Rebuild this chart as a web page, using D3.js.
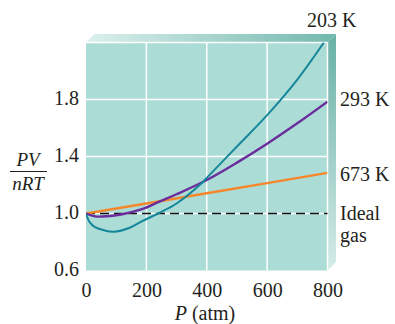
<!DOCTYPE html>
<html>
<head>
<meta charset="utf-8">
<script src="https://cdn.jsdelivr.net/npm/d3@7"></script>
<style>
  html, body { margin: 0; padding: 0; background: #fff; }
  svg { display: block; }
  text { font-family: "Liberation Serif", "DejaVu Serif", serif; fill: #231f20; }
</style>
</head>
<body>
<svg id="chart" width="395" height="324"></svg>
<script>
// ---- data ----
const xTicks = [0, 200, 400, 600, 800];
const yTicks = [0.6, 1.0, 1.4, 1.8];
const yTickLabels = ["0.6", "1.0", "1.4", "1.8"];
const gridX = [200, 400, 600, 800];
const gridY = [1.0, 1.4, 1.8, 2.2];

const series203 = [[0,1.0],[12,0.94],[30,0.905],[60,0.882],[92,0.872],[145,0.90],[185,0.945],[239,1.0],[300,1.07],[382,1.21],[400,1.25],[500,1.47],[600,1.69],[700,1.94],[788,2.2]];
const series293 = [[0,1.0],[30,0.98],[70,0.981],[120,0.995],[185,1.03],[245,1.085],[300,1.135],[400,1.235],[500,1.357],[600,1.49],[700,1.633],[800,1.785]];
const series673 = [[0,1.0],[200,1.07],[400,1.142],[600,1.213],[800,1.285]];
const idealGas = [[0,1.0],[800,1.0]];

const seriesLabels = [
  {text: "203 K", px: 307, py: 27},
  {text: "293 K", px: 340, py: 106},
  {text: "673 K", px: 340, py: 181},
  {text: "Ideal", px: 340, py: 220},
  {text: "gas", px: 340, py: 242}
];

// ---- layout ----
const svg = d3.select("#chart");
const x = d3.scaleLinear().domain([0, 800]).range([86, 327.5]);
const y = d3.scaleLinear().domain([0.6, 2.2]).range([270.5, 42.5]);
const depth = 8.5;

const defs = svg.append("defs");
const gTop = defs.append("linearGradient").attr("id", "gTop").attr("x1", "0").attr("x2", "1").attr("y1", "0").attr("y2", "0");
gTop.append("stop").attr("offset", "0").attr("stop-color", "#dcf0ed");
gTop.append("stop").attr("offset", "1").attr("stop-color", "#72b8ad");
const gRight = defs.append("linearGradient").attr("id", "gRight").attr("x1", "0").attr("x2", "0").attr("y1", "0").attr("y2", "1");
gRight.append("stop").attr("offset", "0").attr("stop-color", "#68b0a5");
gRight.append("stop").attr("offset", "1").attr("stop-color", "#d4ece8");
defs.append("clipPath").attr("id", "plotClip").append("rect")
  .attr("x", x(0)).attr("y", y(2.2)).attr("width", x(800) - x(0)).attr("height", y(0.6) - y(2.2));

const x0 = x(0), x1 = x(800), yT = y(2.2), yB = y(0.6);
// 3D bevels
svg.append("polygon")
  .attr("points", [[x0, yT], [x0 + depth, yT - depth], [x1 + depth, yT - depth], [x1, yT]].map(p => p.join(",")).join(" "))
  .attr("fill", "url(#gTop)");
svg.append("polygon")
  .attr("points", [[x1, yT], [x1 + depth, yT - depth], [x1 + depth, yB - depth], [x1, yB]].map(p => p.join(",")).join(" "))
  .attr("fill", "url(#gRight)");

// plot background
svg.append("rect").attr("x", x0).attr("y", yT).attr("width", x1 - x0).attr("height", yB - yT).attr("fill", "#acdcd6");

// grid
svg.append("g").selectAll("line").data(gridX).join("line")
  .attr("x1", d => x(d)).attr("x2", d => x(d)).attr("y1", yT).attr("y2", yB)
  .attr("stroke", "#fff").attr("stroke-width", 1.5);
svg.append("g").selectAll("line").data(gridY).join("line")
  .attr("x1", x0).attr("x2", x1).attr("y1", d => y(d)).attr("y2", d => y(d))
  .attr("stroke", "#fff").attr("stroke-width", 1.5);

// ideal gas dashed
const line = d3.line().x(d => x(d[0])).y(d => y(d[1]));
const smooth = d3.line().x(d => x(d[0])).y(d => y(d[1])).curve(d3.curveCatmullRom.alpha(0.5));
svg.append("path").attr("d", line(idealGas)).attr("fill", "none")
  .attr("stroke", "#111").attr("stroke-width", 1.5).attr("stroke-dasharray", "9,5");

const plot = svg.append("g").attr("clip-path", "url(#plotClip)");
plot.append("path").attr("d", line(series673)).attr("fill", "none").attr("stroke", "#f5862a").attr("stroke-width", 2.4);
plot.append("path").attr("d", smooth(series293)).attr("fill", "none").attr("stroke", "#6b2c9c").attr("stroke-width", 2.4);
plot.append("path").attr("d", smooth(series203)).attr("fill", "none").attr("stroke", "#16879a").attr("stroke-width", 2);

// axes (tick labels only)
const xAxis = d3.axisBottom(x).tickValues(xTicks).tickSize(0).tickPadding(0).tickFormat(d3.format("d"));
const xa = svg.append("g").attr("transform", `translate(0,${yB})`).call(xAxis);
xa.select(".domain").remove();
xa.selectAll("text").attr("y", 26).attr("dy", null).style("font-size", "20px").style("font-family", "Liberation Serif").attr("fill", "#231f20");

const yAxis = d3.axisLeft(y).tickValues(yTicks).tickSize(0).tickPadding(0).tickFormat((d, i) => yTickLabels[i]);
const ya = svg.append("g").attr("transform", `translate(79,0)`).call(yAxis);
ya.select(".domain").remove();
ya.selectAll("text").attr("x", 0).attr("dy", "0.25em").style("font-size", "20px").style("font-family", "Liberation Serif").attr("fill", "#231f20");

// series labels
svg.append("g").selectAll("text").data(seriesLabels).join("text")
  .attr("x", d => d.px).attr("y", d => d.py).style("font-size", "20px").text(d => d.text);

// y label fraction
svg.append("text").attr("x", 28).attr("y", 166).attr("text-anchor", "middle").style("font-size", "19px").style("font-style", "italic").text("PV");
svg.append("line").attr("x1", 10).attr("x2", 47).attr("y1", 171.5).attr("y2", 171.5).attr("stroke", "#231f20").attr("stroke-width", 1.2);
svg.append("text").attr("x", 28).attr("y", 190).attr("text-anchor", "middle").style("font-size", "19px").style("font-style", "italic").text("nRT");

// x label
const xl = svg.append("text").attr("x", 205).attr("y", 320).attr("text-anchor", "middle").style("font-size", "20px");
xl.append("tspan").style("font-style", "italic").text("P");
xl.append("tspan").text(" (atm)");
</script>
</body>
</html>
